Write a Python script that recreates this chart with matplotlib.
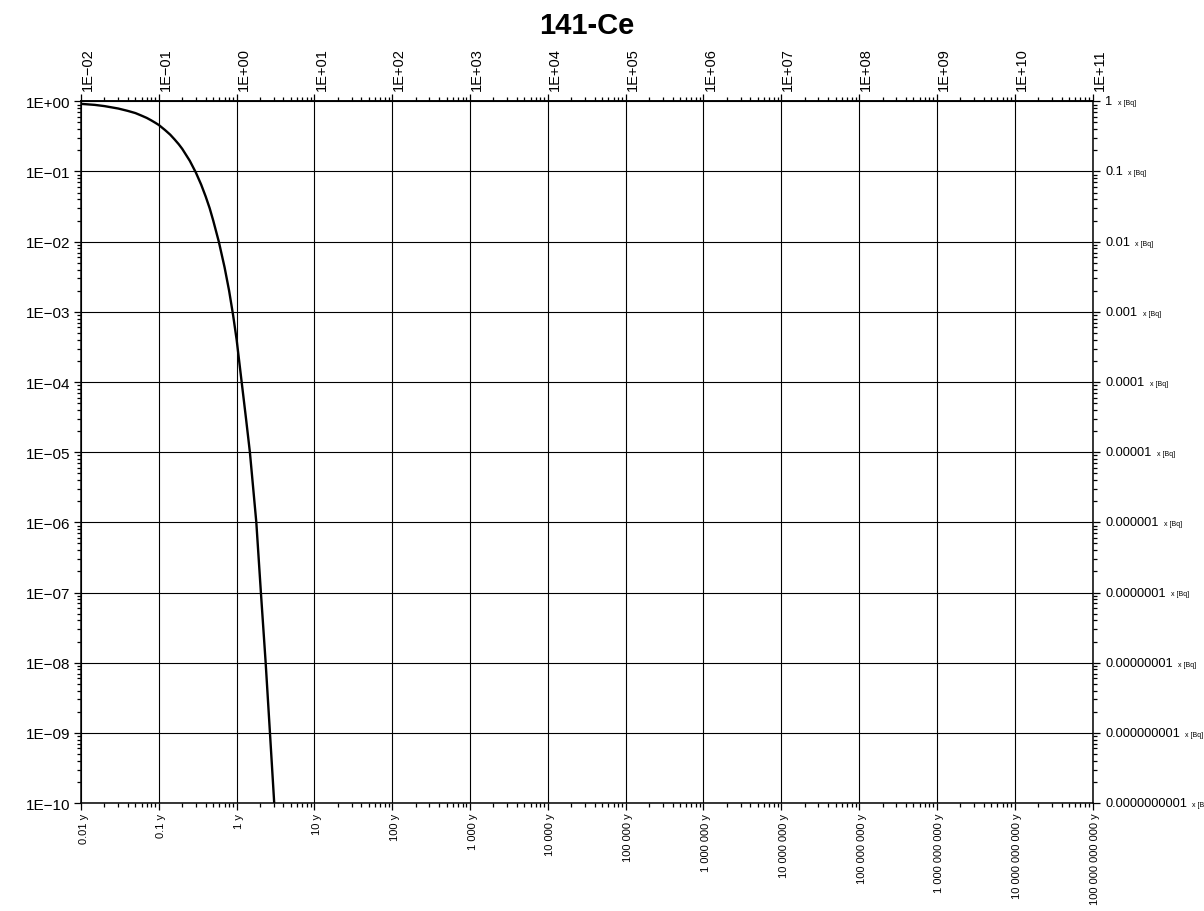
import numpy as np
import matplotlib
matplotlib.use("Agg")
import matplotlib.pyplot as plt
from matplotlib.ticker import LogLocator, FixedLocator, FixedFormatter, NullFormatter
from matplotlib.transforms import ScaledTranslation, blended_transform_factory

plt.rcParams['font.family'] = ['Liberation Sans', 'DejaVu Sans']

title = "141-Ce"

# decay curve (time in years, relative activity)
years = [0.01, 0.015, 0.02, 0.03, 0.04, 0.05, 0.06, 0.07, 0.08, 0.09,
         0.1, 0.12, 0.14, 0.16, 0.18, 0.2, 0.25, 0.3, 0.35, 0.4,
         0.45, 0.5, 0.59, 0.7, 0.8, 0.9, 1.0, 1.16, 1.32, 1.48,
         1.79, 2.05, 2.36, 2.68, 3.04]
activity = [0.92, 0.89, 0.855, 0.79, 0.73, 0.68, 0.625, 0.58, 0.535, 0.495,
            0.46, 0.39, 0.335, 0.285, 0.245, 0.21, 0.142, 0.096, 0.065, 0.044,
            0.030, 0.020, 0.01, 0.0043, 0.002, 9e-4, 4e-4, 1e-4, 3e-5, 1e-5,
            1e-6, 1e-7, 1e-8, 1e-9, 1e-10]

x_ticks = [1e-2, 1e-1, 1e0, 1e1, 1e2, 1e3, 1e4, 1e5, 1e6, 1e7, 1e8, 1e9, 1e10, 1e11]
x_bottom_labels = ["0.01 y", "0.1 y", "1 y", "10 y", "100 y", "1 000 y", "10 000 y",
                   "100 000 y", "1 000 000 y", "10 000 000 y", "100 000 000 y",
                   "1 000 000 000 y", "10 000 000 000 y", "100 000 000 000 y"]
x_top_labels = ["1E\u221202", "1E\u221201", "1E+00", "1E+01", "1E+02", "1E+03", "1E+04",
                "1E+05", "1E+06", "1E+07", "1E+08", "1E+09", "1E+10", "1E+11"]

y_ticks = [1, 1e-1, 1e-2, 1e-3, 1e-4, 1e-5, 1e-6, 1e-7, 1e-8, 1e-9, 1e-10]
y_left_labels = ["1E+00", "1E\u221201", "1E\u221202", "1E\u221203", "1E\u221204", "1E\u221205",
                 "1E\u221206", "1E\u221207", "1E\u221208", "1E\u221209", "1E\u221210"]
y_right_labels = ["1", "0.1", "0.01", "0.001", "0.0001", "0.00001", "0.000001",
                  "0.0000001", "0.00000001", "0.000000001", "0.0000000001"]
unit_suffix = "x [Bq]"

fig = plt.figure(figsize=(12.04, 9.12), dpi=100)
ax = fig.add_axes([0.0673, 0.1184, 0.9074 - 0.0673, 0.8878 - 0.1184])

ax.plot(years, activity, color='black', lw=1.7, zorder=3)

ax.set_xscale('log')
ax.set_yscale('log')
ax.set_xlim(x_ticks[0], x_ticks[-1])
ax.set_ylim(y_ticks[-1], y_ticks[0])

ax.xaxis.set_major_locator(FixedLocator(x_ticks))
ax.xaxis.set_major_formatter(FixedFormatter(x_bottom_labels))
ax.xaxis.set_minor_locator(LogLocator(base=10, subs=np.arange(2, 10), numticks=100))
ax.xaxis.set_minor_formatter(NullFormatter())
ax.yaxis.set_major_locator(FixedLocator(y_ticks))
ax.yaxis.set_major_formatter(FixedFormatter(y_left_labels))
ax.yaxis.set_minor_locator(LogLocator(base=10, subs=np.arange(2, 10), numticks=100))
ax.yaxis.set_minor_formatter(NullFormatter())

ax.grid(True, which='major', color='black', lw=0.8)
for sp in ax.spines.values():
    sp.set_linewidth(1.1)

ax.tick_params(which='both', direction='out', width=0.9, left=True, right=True,
               bottom=True, top=False)
ax.tick_params(which='major', length=5)
ax.tick_params(which='minor', length=3)
ax.tick_params(axis='y', labelsize=11, pad=3)
ax.tick_params(axis='x', labelsize=8, pad=2)

shift = ScaledTranslation(2.5 / 100, 0, fig.dpi_scale_trans)
for lab in ax.get_xticklabels():
    lab.set_rotation(90)
    lab.set_va('top')
    lab.set_ha('center')
    lab.set_transform(lab.get_transform() + shift)

# top axis with exponent labels
top = ax.secondary_xaxis('top')
top.xaxis.set_major_locator(FixedLocator(x_ticks))
top.xaxis.set_major_formatter(FixedFormatter(x_top_labels))
top.xaxis.set_minor_locator(LogLocator(base=10, subs=np.arange(2, 10), numticks=100))
top.xaxis.set_minor_formatter(NullFormatter())
top.tick_params(which='both', direction='out', width=0.9, labelsize=10.5, pad=3)
top.tick_params(which='major', length=5)
top.tick_params(which='minor', length=3)
top.spines['top'].set_linewidth(1.1)
for lab in top.get_xticklabels():
    lab.set_rotation(90)
    lab.set_ha('left')

# right side values with unit
trans = blended_transform_factory(ax.transAxes, ax.transData)
for yv, txt in zip(y_ticks, y_right_labels):
    num = ax.annotate(txt, xy=(1, yv), xycoords=trans, xytext=(9, 0),
                      textcoords='offset points', ha='left', va='center',
                      fontsize=9.2, annotation_clip=False)
    ax.annotate(unit_suffix, xy=(1, 0.5), xycoords=num, xytext=(4, -1),
                textcoords='offset points', ha='left', va='center', fontsize=5)

fig.text(0.4875, 0.972, title, ha='center', va='center', fontsize=21, fontweight='bold')

plt.savefig("out.png", dpi=100)
